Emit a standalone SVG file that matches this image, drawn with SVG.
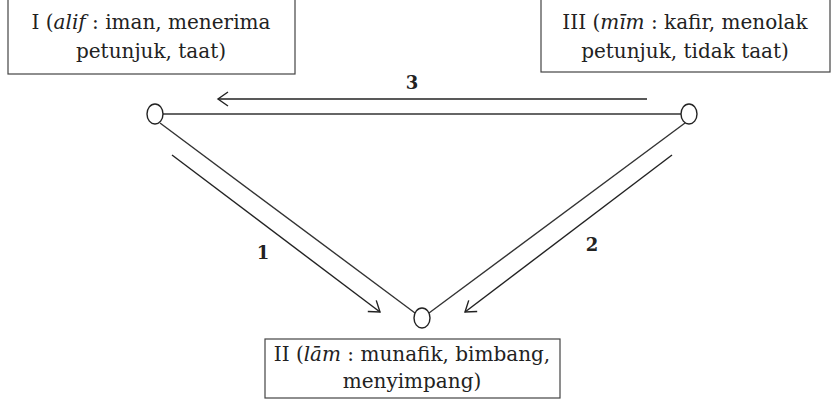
<svg xmlns="http://www.w3.org/2000/svg" width="833" height="401" viewBox="0 0 833 401">
  <style>
    .box { fill: #ffffff; stroke: #444444; stroke-width: 1.2; }
    .lbl { font-family: "DejaVu Serif", serif; font-size: 20px; fill: #222222; text-anchor: middle; }
    .num { font-family: "DejaVu Serif", serif; font-size: 18px; font-weight: bold; fill: #222222; text-anchor: middle; }
    .node { fill: #ffffff; stroke: #222222; stroke-width: 1.4; }
    .edge { fill: none; stroke: #333333; stroke-width: 1.4; }
    .edge-h { fill: none; stroke: #666666; stroke-width: 2; }
    .arrow { fill: none; stroke: #222222; stroke-width: 1.4; marker-end: url(#chevron); }
  </style>
  <defs>
    <marker id="chevron" viewBox="-12 -8 14 16" refX="0" refY="0" markerWidth="14" markerHeight="16" markerUnits="userSpaceOnUse" orient="auto">
      <path d="M -10 -7 L 0 0 L -10 7" fill="none" stroke="#222222" stroke-width="1.4"/>
    </marker>
  </defs>

  <rect width="833" height="401" fill="#ffffff"/>

  <!-- triangle sides and direction arrows -->
  <g id="connectors">
    <line class="edge-h" x1="163" y1="114" x2="681" y2="114"/>
    <line class="edge" x1="160" y1="123" x2="415" y2="313"/>
    <line class="edge" x1="685" y1="123" x2="429" y2="313"/>
    <line class="arrow" x1="647" y1="99" x2="218" y2="99"/>
    <line class="arrow" x1="172" y1="155" x2="380" y2="312"/>
    <line class="arrow" x1="672" y1="155" x2="465" y2="312"/>
    <text class="num" x="412" y="89">3</text>
    <text class="num" x="263" y="259">1</text>
    <text class="num" x="592" y="251">2</text>
  </g>

  <g id="node-alif">
    <ellipse class="node" cx="155" cy="114" rx="8" ry="10"/>
    <rect class="box" x="8" y="-1" width="287" height="75"/>
    <text class="lbl" x="151" y="29">I (<tspan font-style="italic">alif</tspan> : iman, menerima</text>
    <text class="lbl" x="151" y="58">petunjuk, taat)</text>
  </g>

  <g id="node-mim">
    <ellipse class="node" cx="689" cy="114" rx="8" ry="10"/>
    <rect class="box" x="541" y="-1" width="289" height="73"/>
    <text class="lbl" x="685" y="29">III (<tspan font-style="italic">mīm</tspan> : kafir, menolak</text>
    <text class="lbl" x="685" y="58">petunjuk, tidak taat)</text>
  </g>

  <g id="node-lam">
    <ellipse class="node" cx="422" cy="318" rx="8" ry="10"/>
    <rect class="box" x="265" y="339" width="295" height="59"/>
    <text class="lbl" x="412" y="361">II (<tspan font-style="italic">lām</tspan> : munafik, bimbang,</text>
    <text class="lbl" x="412" y="388">menyimpang)</text>
  </g>
</svg>
